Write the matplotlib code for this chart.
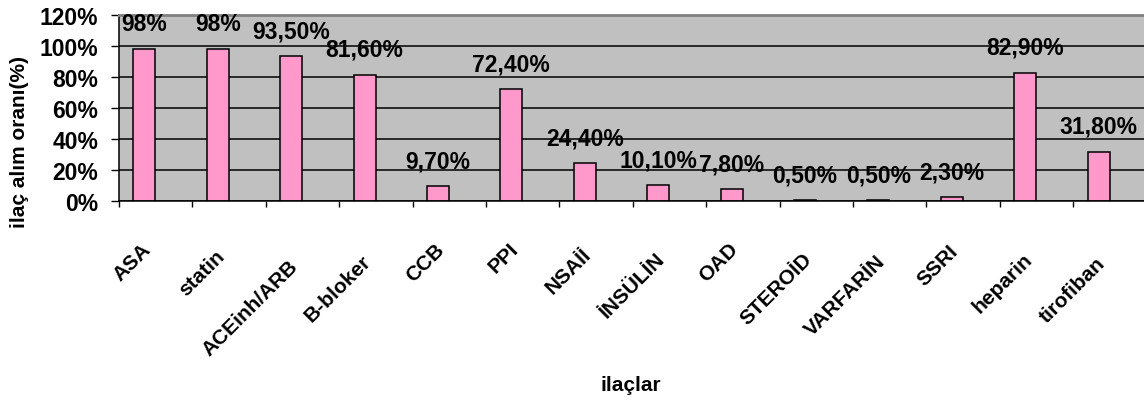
import numpy as np
import matplotlib
matplotlib.use("Agg")
import matplotlib.pyplot as plt
import matplotlib.transforms as mtransforms

plt.rcParams['font.family'] = ['Liberation Sans', 'DejaVu Sans']
plt.rcParams['font.weight'] = 'bold'

# ilaç kullanım oranları (%)
ilaclar = ['ASA', 'statin', 'ACEinh/ARB', 'B-bloker', 'CCB', 'PPI', 'NSAİİ',
           'İNSÜLİN', 'OAD', 'STEROİD', 'VARFARİN', 'SSRI', 'heparin', 'tirofiban']
oranlar = [98, 98, 93.5, 81.6, 9.7, 72.4, 24.4, 10.1, 7.8, 0.5, 0.5, 2.3, 82.9, 31.8]
y_ticks = [0, 20, 40, 60, 80, 100, 120]


def etiket(v):
    if float(v).is_integer():
        return '%d%%' % v
    return ('%.2f%%' % v).replace('.', ',')


W, H = 1144, 402
fig = plt.figure(figsize=(W / 100, H / 100), dpi=100)
ax = fig.add_axes([119 / W, 1 - 202 / H, 14 * 73.4 / W, 186 / H])
ax.set_facecolor('#C0C0C0')

x = np.arange(len(ilaclar))
ax.bar(x + 0.345, oranlar, width=0.3, color='#FF99CC', edgecolor='black',
       linewidth=1.1, zorder=2)

for xi, v in zip(x, oranlar):
    ax.annotate(etiket(v), (xi + 0.345, v), xytext=(0, 13.5), textcoords='offset points',
                ha='center', va='baseline', fontsize=16.5, fontweight='bold')

ax.set_xlim(0, len(ilaclar))
ax.set_ylim(0, 120)
ax.set_yticks(y_ticks)
ax.set_yticklabels(['%d%%' % t for t in y_ticks], fontsize=16.5, fontweight='bold')
ax.yaxis.grid(True, color='black', linewidth=1.1)
ax.set_axisbelow(True)

ax.set_xticks(np.arange(len(ilaclar) + 1))
ax.set_xticklabels([])
ax.tick_params(axis='x', which='major', direction='out', length=4, width=1)
ax.tick_params(axis='y', direction='out', length=6, width=1, pad=9)

# kategori adları 45 derece eğik, uzun adlar biraz daha aşağıda
base = mtransforms.blended_transform_factory(ax.transData, ax.transAxes)
for xi, ad in zip(x, ilaclar):
    dy = 38 + 2.4 * (len(ad) - 3)
    ofs = mtransforms.ScaledTranslation(-1 / 100, -dy / 100, fig.dpi_scale_trans)
    ax.text(xi + 0.5, 0, ad, transform=base + ofs, rotation=45, ha='right', va='top',
            fontsize=15, fontweight='bold')

for s in ['left', 'bottom']:
    ax.spines[s].set_color('black')
    ax.spines[s].set_linewidth(1.1)
ax.spines['top'].set_color('#808080')
ax.spines['top'].set_linewidth(2)
ax.spines['right'].set_visible(False)

fig.text(20 / W, 1 - 142 / H, 'ilaç alım oranı(%)', rotation=90, ha='center', va='center',
         fontsize=15, fontweight='bold')
fig.text(631 / W, 1 - 386 / H, 'ilaçlar', ha='center', va='center',
         fontsize=15, fontweight='bold')

fig.savefig('out.png', dpi=100)
